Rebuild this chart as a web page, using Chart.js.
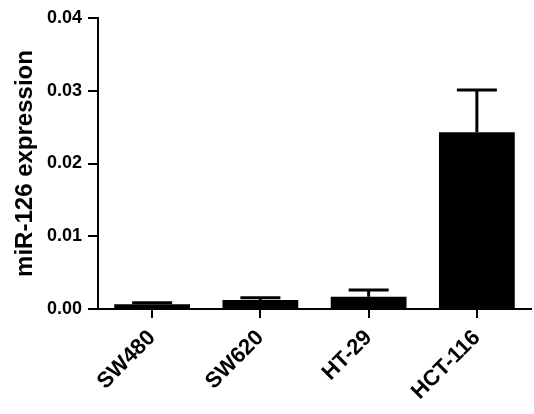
<!DOCTYPE html>
<html>
<head>
<meta charset="utf-8">
<script src="https://cdn.jsdelivr.net/npm/chart.js@4"></script>
<style>
html,body{margin:0;padding:0;background:#fff;}
#wrap{width:534px;height:414px;position:relative;}
</style>
</head>
<body>
<div id="wrap"><canvas id="c" width="534" height="414"></canvas></div>
<script>
const categories = ["SW480", "SW620", "HT-29", "HCT-116"];
const means = [0.00065, 0.00125, 0.0017, 0.0243];
const errors = [0.0002, 0.0003, 0.0009, 0.0058];
const yTicks = [0, 0.01, 0.02, 0.03, 0.04];

const FONT = "'Liberation Sans', Arial, sans-serif";

const errorBarPlugin = {
  id: 'errorBars',
  afterDatasetsDraw(chart) {
    const ctx = chart.ctx;
    const meta = chart.getDatasetMeta(0);
    const y = chart.scales.y;
    ctx.save();
    ctx.strokeStyle = '#000';
    ctx.lineWidth = 3;
    meta.data.forEach((bar, i) => {
      const top = y.getPixelForValue(means[i]);
      const hi = y.getPixelForValue(means[i] + errors[i]);
      const half = 20;
      ctx.beginPath();
      ctx.moveTo(bar.x, top);
      ctx.lineTo(bar.x, hi);
      ctx.moveTo(bar.x - half, hi);
      ctx.lineTo(bar.x + half, hi);
      ctx.stroke();
    });
    ctx.restore();
  }
};

new Chart(document.getElementById('c'), {
  type: 'bar',
  data: {
    labels: categories,
    datasets: [{
      data: means,
      backgroundColor: '#000',
      borderWidth: 0,
      barPercentage: 0.7,
      categoryPercentage: 1.0
    }]
  },
  options: {
    responsive: false,
    animation: false,
    layout: { padding: { top: 18, right: 3, left: 0, bottom: 0 } },
    plugins: { legend: { display: false }, tooltip: { enabled: false } },
    scales: {
      x: {
        grid: { display: true, drawOnChartArea: false, offset: false, drawTicks: true, tickLength: 9, color: '#000', lineWidth: 2 },
        border: { display: true, color: '#000', width: 2 },
        ticks: { color: '#000', font: { family: FONT, size: 22, weight: 'bold' }, maxRotation: 45, minRotation: 45, padding: 7 },
        afterFit(s) { s.height = 105; }
      },
      y: {
        min: 0, max: 0.04,
        afterBuildTicks(s) { s.ticks = yTicks.map(v => ({ value: v })); },
        grid: { display: true, drawOnChartArea: false, drawTicks: true, tickLength: 10, color: '#000', lineWidth: 2 },
        border: { display: true, color: '#000', width: 2 },
        ticks: { color: '#000', font: { family: FONT, size: 18, weight: 'bold' }, padding: 6, callback: v => Number(v).toFixed(2) },
        title: { display: true, text: 'miR-126 expression', color: '#000', font: { family: FONT, size: 24, weight: 'bold' }, padding: { top: 11, bottom: 4 } },
        afterFit(s) { s.width = 98; }
      }
    }
  },
  plugins: [errorBarPlugin]
});
</script>
</body>
</html>
